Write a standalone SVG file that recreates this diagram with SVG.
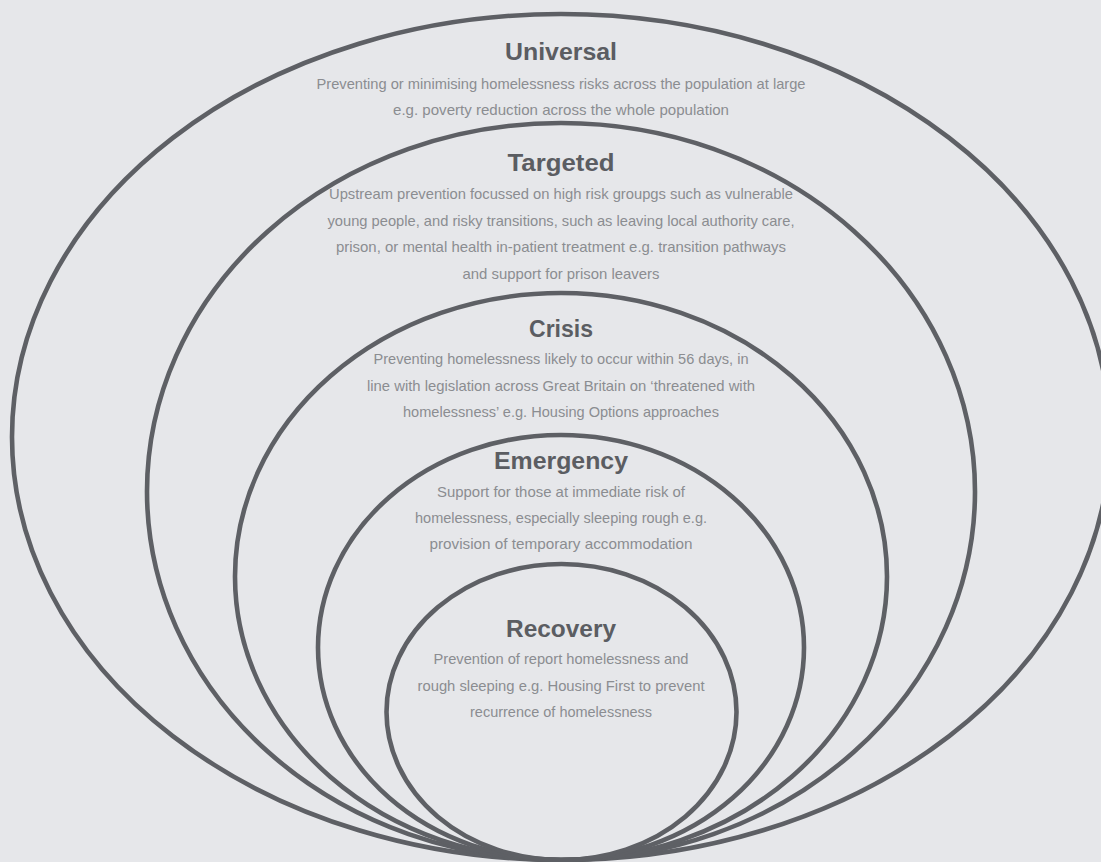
<svg xmlns="http://www.w3.org/2000/svg" width="1101" height="862" viewBox="0 0 1101 862">
<style>
.ring{fill:none;stroke:#5e6065;stroke-width:4.6}
.title{font-family:"Liberation Sans",Arial,sans-serif;font-weight:bold;font-size:24.5px;fill:#5b5d62;text-anchor:middle}
.desc{font-family:"Liberation Sans",Arial,sans-serif;font-size:14.5px;fill:#8b8d91;text-anchor:middle}
</style>
<rect x="0" y="0" width="1101" height="862" fill="#e6e7ea"/>
<g id="universal">
<ellipse class="ring" cx="561" cy="437" rx="549" ry="423"/>
<text class="title" x="561" y="60" textLength="112" lengthAdjust="spacingAndGlyphs">Universal</text>
<text class="desc" x="561" y="88.5" textLength="489" lengthAdjust="spacingAndGlyphs">Preventing or minimising homelessness risks across the population at large</text>
<text class="desc" x="561" y="114.5" textLength="336" lengthAdjust="spacingAndGlyphs">e.g. poverty reduction across the whole population</text>
</g>
<g id="targeted">
<ellipse class="ring" cx="561" cy="491.5" rx="414" ry="368.5"/>
<text class="title" x="561" y="171" textLength="107" lengthAdjust="spacingAndGlyphs">Targeted</text>
<text class="desc" x="561" y="199" textLength="464" lengthAdjust="spacingAndGlyphs">Upstream prevention focussed on high risk groupgs such as vulnerable</text>
<text class="desc" x="561" y="225.5" textLength="467" lengthAdjust="spacingAndGlyphs">young people, and risky transitions, such as leaving local authority care,</text>
<text class="desc" x="561" y="252" textLength="450" lengthAdjust="spacingAndGlyphs">prison, or mental health in-patient treatment e.g. transition pathways</text>
<text class="desc" x="561" y="278.5" textLength="197" lengthAdjust="spacingAndGlyphs">and support for prison leavers</text>
</g>
<g id="crisis">
<ellipse class="ring" cx="561" cy="576.5" rx="326" ry="283.5"/>
<text class="title" x="561" y="337" textLength="64" lengthAdjust="spacingAndGlyphs">Crisis</text>
<text class="desc" x="561" y="364" textLength="375" lengthAdjust="spacingAndGlyphs">Preventing homelessness likely to occur within 56 days, in</text>
<text class="desc" x="561" y="390.5" textLength="388" lengthAdjust="spacingAndGlyphs">line with legislation across Great Britain on ‘threatened with</text>
<text class="desc" x="561" y="417" textLength="316" lengthAdjust="spacingAndGlyphs">homelessness’ e.g. Housing Options approaches</text>
</g>
<g id="emergency">
<ellipse class="ring" cx="561" cy="647.5" rx="243" ry="212.5"/>
<text class="title" x="561" y="469" textLength="134" lengthAdjust="spacingAndGlyphs">Emergency</text>
<text class="desc" x="561" y="496.5" textLength="248" lengthAdjust="spacingAndGlyphs">Support for those at immediate risk of</text>
<text class="desc" x="561" y="522.5" textLength="292" lengthAdjust="spacingAndGlyphs">homelessness, especially sleeping rough e.g.</text>
<text class="desc" x="561" y="549" textLength="263" lengthAdjust="spacingAndGlyphs">provision of temporary accommodation</text>
</g>
<g id="recovery">
<ellipse class="ring" cx="561.5" cy="712" rx="175" ry="148"/>
<text class="title" x="561" y="637" textLength="110" lengthAdjust="spacingAndGlyphs">Recovery</text>
<text class="desc" x="561" y="664" textLength="255" lengthAdjust="spacingAndGlyphs">Prevention of report homelessness and</text>
<text class="desc" x="561" y="690.5" textLength="287" lengthAdjust="spacingAndGlyphs">rough sleeping e.g. Housing First to prevent</text>
<text class="desc" x="561" y="717" textLength="182" lengthAdjust="spacingAndGlyphs">recurrence of homelessness</text>
</g>
</svg>
